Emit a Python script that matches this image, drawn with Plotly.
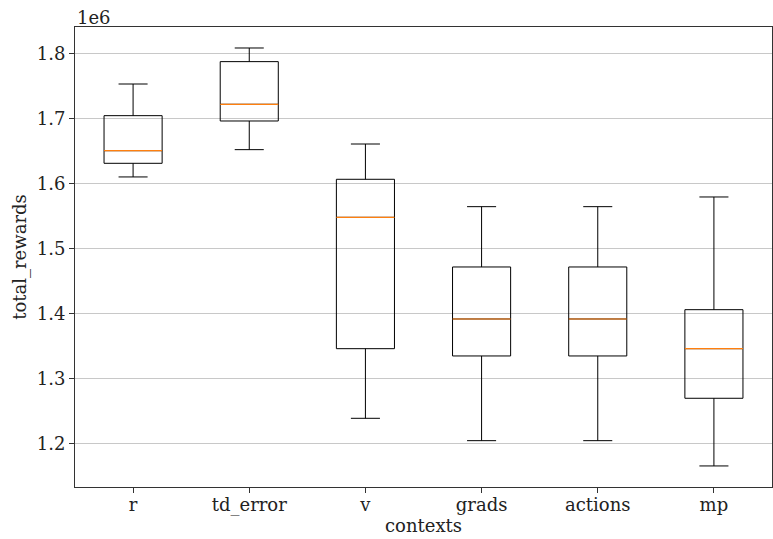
import plotly.graph_objects as go

categories = ["r", "td_error", "v", "grads", "actions", "mp"]
lower_whisker = [1610800, 1652800, 1239500, 1205100, 1205100, 1166200]
q1_values = [1631800, 1696900, 1346600, 1335400, 1335400, 1270300]
medians = [1651200, 1722600, 1548700, 1392300, 1392300, 1346600]
q3_values = [1705100, 1788200, 1607200, 1472300, 1472300, 1406600]
upper_whisker = [1753800, 1809200, 1661500, 1565100, 1565100, 1580000]
ytick_vals = [1.2e6, 1.3e6, 1.4e6, 1.5e6, 1.6e6, 1.7e6, 1.8e6]
ytick_text = ["1.2", "1.3", "1.4", "1.5", "1.6", "1.7", "1.8"]

FONT = "DejaVu Serif"
FS = 18
positions = list(range(1, len(categories) + 1))

fig = go.Figure()
fig.add_trace(go.Box(
    x=positions,
    q1=q1_values, median=medians, q3=q3_values,
    lowerfence=lower_whisker, upperfence=upper_whisker,
    width=0.5, whiskerwidth=0.5,
    line=dict(color="black", width=1),
    fillcolor="rgba(255,255,255,0)",
    boxpoints=False, hoverinfo="skip", showlegend=False,
))

mx, my = [], []
for p, m in zip(positions, medians):
    mx += [p - 0.25, p + 0.25, None]
    my += [m, m, None]
fig.add_trace(go.Scatter(x=mx, y=my, mode="lines",
                         line=dict(color="#ff7f0e", width=1.2),
                         showlegend=False, hoverinfo="skip"))

fig.update_layout(
    width=773, height=539,
    margin=dict(l=75, r=1, t=27, b=52),
    paper_bgcolor="white", plot_bgcolor="white",
    font=dict(family=FONT, size=FS, color="#222222"),
    xaxis=dict(
        range=[0.5, 6.5], tickmode="array", tickvals=positions, ticktext=categories,
        showgrid=False, zeroline=False, showline=True, mirror=True,
        linecolor="#333333", linewidth=1, ticks="outside", ticklen=5, tickcolor="#333333",
        ticklabelstandoff=-4,
        title=dict(text="contexts", standoff=0, font=dict(size=FS)),
    ),
    yaxis=dict(
        range=[1133800, 1841500], tickmode="array", tickvals=ytick_vals, ticktext=ytick_text,
        showgrid=True, gridcolor="#c8c8c8", gridwidth=1, zeroline=False,
        showline=True, mirror=True, linecolor="#333333", linewidth=1,
        ticks="outside", ticklen=5, tickcolor="#333333",
        title=dict(text="total_rewards", standoff=5, font=dict(size=FS)),
    ),
    annotations=[dict(text="1e6", xref="paper", yref="paper", x=0, y=1,
                      xanchor="left", yanchor="bottom", showarrow=False,
                      font=dict(family=FONT, size=FS, color="#222222"), yshift=-3)],
)

fig.write_html("out.html")
